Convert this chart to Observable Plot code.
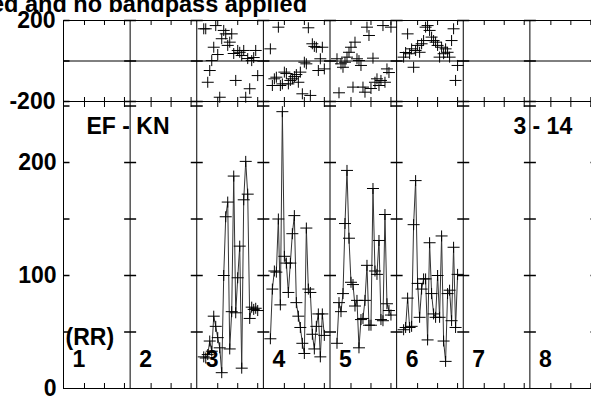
<!DOCTYPE html>
<html><head><meta charset="utf-8">
<script src="https://cdn.jsdelivr.net/npm/d3@7"></script>
<script src="https://cdn.jsdelivr.net/npm/@observablehq/plot@0.6"></script>
<style>
html,body{margin:0;padding:0;overflow:hidden;background:#fff;}
#wrap{position:relative;width:591px;height:397px;overflow:hidden;}
#wrap svg{position:absolute;left:0;top:0;}
#title{position:absolute;right:284px;top:-7.5px;font:bold 23.5px/1 "Liberation Sans",Arial,sans-serif;white-space:nowrap;color:#000;}
</style></head><body>
<div id="wrap"><div id="title">Data calibrated and no bandpass applied</div></div>
<script>
// ---- data ----
const ifLabels = ["1","2","3","4","5","6","7","8"];
const channels = [3,4,5,6,7,8,9,10,11,12,13,14,15,16,17,18,19,20,21,22,23,24,25,26,27,28,29,30];
const channelTicks = [10,20,30];
const phaseTicks = [-200, 200];
const ampLabelTicks = [0, 100, 200];
const ampMinorTicks = [50, 100, 150, 200, 250];
const baselineLabel = "EF - KN";
const timeLabel = "3 - 14";
const polLabel = "(RR)";

const ampIF3 = [28,27,30,42,33,64,55,45,36,14,100,152,165,35,68,188,67,98,126,18,167,201,172,62,72,70,71,69];
const ampIF4 = [44,88,104,103,150,74,245,117,111,85,111,137,153,76,64,54,40,31,142,88,85,48,35,55,66,28,66,47];
const ampIF5 = [40,76,68,84,146,193,133,94,92,73,78,36,61,62,78,109,56,56,177,104,101,131,61,60,154,75,69,65];
const ampIF6 = [52,54,80,54,55,145,184,93,63,88,97,97,43,129,84,66,63,100,63,135,42,24,84,87,60,125,54,101];

const phaseIF3 = [159,159,-105,-47,2,68,175,32,-179,110,151,134,77,93,134,37,-96,52,43,27,52,-179,12,-137,2,17,52,-72];
const phaseIF4 = [60,-121,-88,-80,167,-121,-113,-55,-62,-113,-96,-88,-77,-67,-105,-55,-162,-6,-14,164,-170,85,72,68,-47,11,68,-39];
const phaseIF5 = [11,-157,-14,-31,-6,19,43,68,-129,93,11,2,-22,-129,-154,167,126,-136,14,-105,-88,-121,-96,175,-105,-39,-57,167];
const phaseIF6 = [19,42,134,36,60,-31,52,77,43,85,101,167,175,151,118,101,93,77,19,68,36,60,43,19,101,159,-96,-22];

// ---- derived tables ----
const W = 100/3;           // channel units per IF panel
const NIF = ifLabels.length;
const series = [
  {IF: 3, amp: ampIF3, phase: phaseIF3},
  {IF: 4, amp: ampIF4, phase: phaseIF4},
  {IF: 5, amp: ampIF5, phase: phaseIF5},
  {IF: 6, amp: ampIF6, phase: phaseIF6}
];
const rows = series.flatMap(s => channels.map((c, i) => ({IF: s.IF, x: (s.IF - 1) * W + c, amp: s.amp[i], phase: s.phase[i]})));
const dividers = d3.range(NIF + 1).map(k => k * W - 0.5);
const edgeTicks = d3.range(NIF).flatMap(k => channelTicks.map(t => k * W + t));
const divTicksAmp = dividers.flatMap((d, k) => ampMinorTicks.map(v => ({x: d, y: v, k})));
const divTicksPhase = dividers.flatMap((d, k) => [-200, 0, 200].map(v => ({x: d, y: v, k})));

const plus = {draw(ctx) { ctx.moveTo(-6, 0); ctx.lineTo(6, 0); ctx.moveTo(0, -5.5); ctx.lineTo(0, 5.5); }};
const dash = {draw(ctx) { ctx.moveTo(-6, 0); ctx.lineTo(6, 0); }};
const halfDash = {draw(ctx) { ctx.moveTo(0, 0); ctx.lineTo(6, 0); }};

const font = "'Liberation Sans', Arial, sans-serif";
const common = {
  width: 591, height: 397,
  marginLeft: 63, marginRight: -5,
  style: {background: "transparent", overflow: "visible", fontFamily: font},
  x: {domain: [dividers[0], dividers[NIF]], range: [63, 596], axis: null}
};
const txt = {fontSize: 23, fontWeight: "bold", fill: "#000", fontFamily: font, lineAnchor: "middle"};

// ---- phase panel ----
const topPlot = Plot.plot({
  ...common,
  marginTop: 20, marginBottom: 296,
  y: {domain: [-200, 200], range: [101, 20], axis: null},
  marks: [
    Plot.ruleY([-200, 0, 200], {stroke: "#000", strokeWidth: 1}),
    Plot.ruleX(dividers, {stroke: "#000", strokeWidth: 1}),
    Plot.ruleX(edgeTicks, {insetBottom: 76, stroke: "#000"}),
    Plot.ruleX(edgeTicks, {insetTop: 77, stroke: "#000"}),
    Plot.dot(divTicksPhase.filter(d => d.k > 0), {x: "x", y: "y", symbol: dash, fill: "none", stroke: "#000"}),
    Plot.dot(divTicksPhase.filter(d => d.k === 0), {x: "x", y: "y", symbol: halfDash, fill: "none", stroke: "#000"}),
    Plot.dot(rows, {x: "x", y: "phase", symbol: plus, fill: "none", stroke: "#000", strokeWidth: 1}),
    Plot.text(phaseTicks, {x: () => dividers[0], y: d => d, text: d => String(d), textAnchor: "end", dx: -8, ...txt})
  ]
});

// ---- amplitude panel ----
const botPlot = Plot.plot({
  ...common,
  marginTop: 101, marginBottom: 9,
  y: {domain: [0, 254], range: [388, 101], axis: null},
  marks: [
    Plot.ruleY([0, 254], {stroke: "#000", strokeWidth: 1}),
    Plot.ruleX(dividers, {stroke: "#000", strokeWidth: 1}),
    Plot.ruleX(edgeTicks, {insetBottom: 281, stroke: "#000"}),
    Plot.ruleX(edgeTicks, {insetTop: 282, stroke: "#000"}),
    Plot.dot(divTicksAmp.filter(d => d.k > 0), {x: "x", y: "y", symbol: dash, fill: "none", stroke: "#000"}),
    Plot.dot(divTicksAmp.filter(d => d.k === 0), {x: "x", y: "y", symbol: halfDash, fill: "none", stroke: "#000"}),
    Plot.line(rows, {x: "x", y: "amp", z: "IF", stroke: "#333", strokeWidth: 1}),
    Plot.dot(rows, {x: "x", y: "amp", symbol: plus, fill: "none", stroke: "#000", strokeWidth: 1}),
    Plot.text(ampLabelTicks, {x: () => dividers[0], y: d => d, text: d => String(d), textAnchor: "end", dx: -7, ...txt}),
    Plot.text(ifLabels, {x: (d, i) => dividers[i], text: d => d, frameAnchor: "bottom", dy: -29, dx: 9, textAnchor: "start", ...txt}),
    Plot.text([polLabel], {x: () => dividers[0], text: d => d, frameAnchor: "bottom", dy: -51, dx: 2, textAnchor: "start", ...txt}),
    Plot.text([baselineLabel], {x: () => dividers[0], text: d => d, frameAnchor: "top", dy: 25, dx: 23, textAnchor: "start", ...txt}),
    Plot.text([timeLabel], {x: () => dividers[7], text: d => d, frameAnchor: "top", dy: 25, dx: -16.5, textAnchor: "start", ...txt})
  ]
});

const wrap = document.getElementById("wrap");
wrap.appendChild(topPlot);
wrap.appendChild(botPlot);
</script>
</body></html>
